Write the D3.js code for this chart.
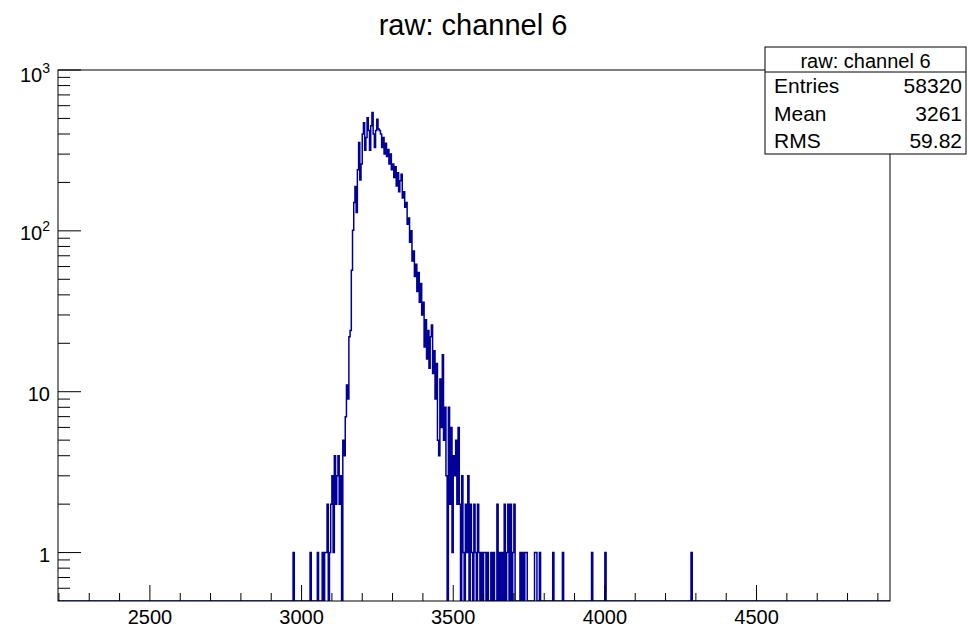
<!DOCTYPE html>
<html>
<head>
<meta charset="utf-8">
<script src="https://cdn.jsdelivr.net/npm/d3@7"></script>
<style>
  body { margin: 0; background: #fff; }
  text { font-family: "Liberation Sans", Arial, Helvetica, sans-serif; }
</style>
</head>
<body>
<script>

var title = "raw: channel 6";

// histogram bins, 4 ADC counts wide
var binWidth = 4;
var denseStart = 3060;
var denseCounts = [
    0, 0, 1, 0, 1, 1, 2, 0, 1, 2,
    3, 1, 4, 2, 3, 4, 2, 3, 0, 5,
    4, 7, 11, 9, 22, 24, 57, 101, 150, 189,
    130, 240, 354, 207, 260, 400, 470, 317, 380, 505,
    420, 317, 450, 545, 400, 330, 420, 495, 430, 420,
    400, 330, 380, 300, 350, 290, 320, 260, 300, 240,
    260, 215, 250, 190, 230, 175, 205, 225, 160, 175,
    140, 150, 110, 120, 85, 100, 65, 75, 52, 62,
    42, 55, 36, 47, 30, 36, 19, 28, 16, 24,
    14, 22, 26, 13, 18, 9, 15, 5, 4, 12,
    6, 17, 5, 8, 3, 0, 8, 2, 6, 1,
    4, 3, 5, 2, 6, 2, 0, 3, 1, 0,
    2, 1, 3, 0, 2, 1, 0, 2, 1, 0,
    2, 1, 0, 1, 0, 1, 1, 0, 1, 0
];

// isolated bins outside the dense part: [bin low edge, count]
var sparseBins = [
    [2972, 1], [3028, 1], [3052, 1],
    [3624, 1], [3632, 1], [3644, 2], [3652, 1], [3660, 1], [3668, 2],
    [3676, 1], [3680, 2], [3688, 2], [3696, 1], [3700, 2],
    [3720, 1], [3728, 1], [3736, 1], [3740, 1], [3768, 1], [3772, 1],
    [3784, 1], [3828, 1], [3860, 1], [3956, 1], [4000, 1], [4284, 1]
];

var xRange = [2197, 4940];
var yRange = [0.5, 1000];
var xTicks = [2500, 3000, 3500, 4000, 4500];
var yTicks = [1, 10, 100, 1000];

var statsRows = [["Entries", "58320"], ["Mean", "3261"], ["RMS", "59.82"]];

var W = 969, H = 627;
var frame = {left: 58, right: 890, top: 70, bottom: 601};

var x = d3.scaleLinear().domain(xRange).range([frame.left, frame.right]);
var y = d3.scaleLog().domain(yRange).range([frame.bottom, frame.top]);

var svg = d3.select("body").append("svg")
    .attr("width", W)
    .attr("height", H);

svg.append("defs").append("clipPath")
    .attr("id", "clip")
  .append("rect")
    .attr("x", frame.left)
    .attr("y", frame.top)
    .attr("width", frame.right - frame.left)
    .attr("height", frame.bottom - frame.top);

// fill bin table
var counts = {};
denseCounts.forEach(function(c, i) { counts[denseStart + i * binWidth] = c; });
sparseBins.forEach(function(d) { counts[d[0]] = d[1]; });

var bins = [];
for (var lo = 2196; lo < xRange[1]; lo += binWidth) {
    bins.push({lo: lo, c: counts[lo] || 0});
}
bins.push({lo: bins[bins.length - 1].lo + binWidth, c: 0});

var step = d3.line()
    .x(function(d) { return x(d.lo); })
    .y(function(d) { return d.c > 0 ? y(d.c) : frame.bottom; })
    .curve(d3.curveStepAfter);

svg.append("path")
    .datum(bins)
    .attr("clip-path", "url(#clip)")
    .attr("fill", "none")
    .attr("stroke", "#000099")
    .attr("stroke-width", 1.5)
    .attr("d", step);

// frame
svg.append("rect")
    .attr("x", frame.left)
    .attr("y", frame.top)
    .attr("width", frame.right - frame.left)
    .attr("height", frame.bottom - frame.top)
    .attr("fill", "none")
    .attr("stroke", "#000")
    .attr("stroke-width", 1);

// x ticks: minor every 100, major every 500
var xMinor = d3.range(2200, xRange[1], 100);
svg.append("g").selectAll("line")
    .data(xMinor)
  .enter().append("line")
    .attr("x1", function(d) { return x(d); })
    .attr("x2", function(d) { return x(d); })
    .attr("y1", frame.bottom)
    .attr("y2", function(d) { return frame.bottom - (d % 500 === 0 ? 16 : 8); })
    .attr("stroke", "#000")
    .attr("stroke-width", 1);

svg.append("g").selectAll("text")
    .data(xTicks)
  .enter().append("text")
    .attr("x", function(d) { return x(d); })
    .attr("y", 624)
    .attr("text-anchor", "middle")
    .attr("font-size", 20)
    .text(function(d) { return d; });

// y ticks: decades and 2..9 sub-ticks
var yMinor = [];
[0.1, 1, 10, 100].forEach(function(dec) {
    for (var k = 2; k <= 9; k++) {
        var v = dec * k;
        if (v > yRange[0] && v < yRange[1]) yMinor.push(v);
    }
});
svg.append("g").selectAll("line")
    .data(yMinor)
  .enter().append("line")
    .attr("x1", frame.left)
    .attr("x2", frame.left + 12)
    .attr("y1", function(d) { return y(d); })
    .attr("y2", function(d) { return y(d); })
    .attr("stroke", "#000");

svg.append("g").selectAll("line")
    .data(yTicks)
  .enter().append("line")
    .attr("x1", frame.left)
    .attr("x2", frame.left + 23)
    .attr("y1", function(d) { return y(d); })
    .attr("y2", function(d) { return y(d); })
    .attr("stroke", "#000");

var ylab = svg.append("g").selectAll("text")
    .data(yTicks)
  .enter().append("text")
    .attr("x", 50)
    .attr("y", function(d) { return Math.max(y(d) + 9, 82); })
    .attr("text-anchor", "end")
    .attr("font-size", 20);

ylab.each(function(d) {
    var t = d3.select(this);
    if (d < 100) {
        t.text(d);
    } else {
        t.append("tspan").text("10");
        t.append("tspan")
            .attr("font-size", 14)
            .attr("dy", -9)
            .text(Math.round(Math.log10(d)));
    }
});

// title
svg.append("text")
    .attr("x", 473)
    .attr("y", 35)
    .attr("text-anchor", "middle")
    .attr("font-size", 29)
    .text(title);

// stats box
var box = {left: 765, right: 966, top: 47, head: 72, bottom: 154};
var stats = svg.append("g");
stats.append("rect")
    .attr("x", box.left)
    .attr("y", box.top)
    .attr("width", box.right - box.left)
    .attr("height", box.bottom - box.top)
    .attr("fill", "#fff")
    .attr("stroke", "#000");
stats.append("line")
    .attr("x1", box.left)
    .attr("x2", box.right)
    .attr("y1", box.head)
    .attr("y2", box.head)
    .attr("stroke", "#000");
stats.append("text")
    .attr("x", (box.left + box.right) / 2)
    .attr("y", 68)
    .attr("text-anchor", "middle")
    .attr("font-size", 20)
    .text(title);

var rowH = (box.bottom - box.head) / statsRows.length;
statsRows.forEach(function(r, i) {
    var by = box.head + rowH * (i + 0.5) + 7.5;
    stats.append("text")
        .attr("x", box.left + 9)
        .attr("y", by)
        .attr("font-size", 21)
        .text(r[0]);
    stats.append("text")
        .attr("x", box.right - 4)
        .attr("y", by)
        .attr("text-anchor", "end")
        .attr("font-size", 21)
        .text(r[1]);
});

</script>
</body>
</html>
